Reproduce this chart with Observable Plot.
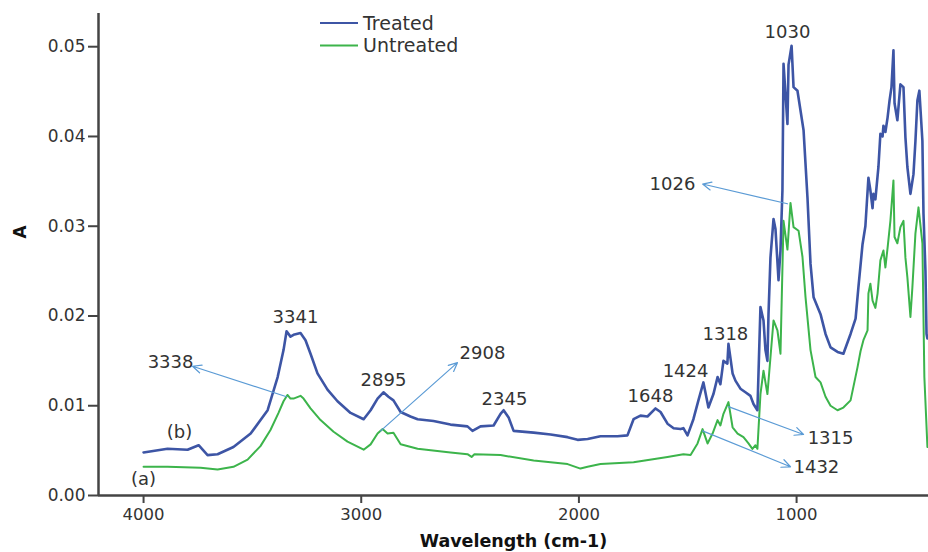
<!DOCTYPE html>
<html><head><meta charset="utf-8">
<script src="https://cdn.jsdelivr.net/npm/d3@7"></script>
<script src="https://cdn.jsdelivr.net/npm/@observablehq/plot@0.6"></script>
<style>
html,body{margin:0;padding:0;background:#fff;}
#chart{width:928px;height:552px;position:relative;}
</style></head><body><div id="chart"></div>
<script>
// ---- data ----
const treatedWn = [4000,3890,3798,3747,3706,3660,3587,3508,3430,3384,3357,3343,3325,3311,3279,3256,3233,3201,3155,3109,3049,2989,2957,2925,2898,2875,2852,2819,2774,2741,2668,2590,2512,2489,2452,2392,2360,2346,2323,2300,2208,2130,2052,2006,1960,1901,1823,1777,1749,1717,1685,1648,1625,1593,1565,1533,1520,1501,1474,1451,1428,1405,1382,1363,1350,1336,1318,1313,1294,1281,1258,1235,1212,1198,1180,1166,1152,1143,1134,1129,1120,1106,1097,1083,1074,1065,1060,1042,1037,1023,1014,996,982,968,950,936,922,890,867,844,812,785,752,729,716,697,684,670,661,651,647,638,624,615,605,601,592,582,573,564,555,550,537,523,509,500,491,477,463,454,445,436,422,417,408,403,399];
const treatedA = [0.0048,0.0052,0.0051,0.0056,0.0045,0.0046,0.0054,0.0069,0.0095,0.0132,0.0162,0.0183,0.0177,0.0179,0.0181,0.0173,0.0158,0.0136,0.0118,0.0105,0.0092,0.0085,0.0095,0.0108,0.0115,0.0110,0.0106,0.0093,0.0088,0.0085,0.0083,0.0079,0.0077,0.0072,0.0077,0.0078,0.0091,0.0095,0.0087,0.0072,0.0070,0.0068,0.0065,0.0062,0.0063,0.0066,0.0066,0.0067,0.0085,0.0089,0.0088,0.0097,0.0093,0.0080,0.0075,0.0074,0.0075,0.0067,0.0085,0.0106,0.0126,0.0098,0.0113,0.0132,0.0124,0.0150,0.0147,0.0169,0.0136,0.0128,0.0119,0.0115,0.0111,0.0102,0.0095,0.0210,0.0195,0.0162,0.0150,0.0202,0.0265,0.0308,0.0297,0.0240,0.0273,0.0340,0.0481,0.0414,0.0480,0.0501,0.0455,0.0451,0.0429,0.0407,0.0332,0.0258,0.0221,0.0202,0.0180,0.0165,0.0160,0.0158,0.0180,0.0197,0.0232,0.0280,0.0300,0.0354,0.0340,0.0320,0.0336,0.0330,0.0366,0.0403,0.0400,0.0412,0.0405,0.0421,0.0440,0.0455,0.0496,0.0437,0.0418,0.0458,0.0455,0.0399,0.0366,0.0336,0.0358,0.0395,0.0440,0.0451,0.0395,0.0314,0.0250,0.0180,0.0175];
const untreatedWn = [4000,3890,3738,3660,3587,3522,3463,3417,3380,3357,3339,3325,3311,3279,3265,3233,3187,3127,3063,2989,2957,2925,2902,2879,2852,2819,2741,2590,2512,2493,2480,2360,2208,2130,2052,1993,1960,1901,1749,1593,1520,1487,1455,1432,1409,1386,1363,1350,1336,1313,1294,1271,1244,1221,1203,1189,1180,1166,1152,1134,1120,1106,1088,1074,1060,1042,1028,1014,991,973,959,936,913,890,867,844,812,785,752,739,720,706,693,674,670,661,651,638,628,615,601,592,582,569,555,550,537,523,509,500,491,477,468,454,440,422,413,399];
const untreatedA = [0.0032,0.0032,0.0031,0.0029,0.0032,0.0040,0.0055,0.0073,0.0092,0.0105,0.0112,0.0108,0.0108,0.0111,0.0108,0.0097,0.0084,0.0071,0.0060,0.0051,0.0057,0.0069,0.0074,0.0069,0.0070,0.0057,0.0052,0.0048,0.0046,0.0043,0.0046,0.0045,0.0039,0.0037,0.0035,0.0030,0.0032,0.0035,0.0037,0.0043,0.0046,0.0045,0.0058,0.0074,0.0058,0.0069,0.0084,0.0078,0.0091,0.0104,0.0076,0.0069,0.0065,0.0058,0.0052,0.0056,0.0052,0.0113,0.0139,0.0113,0.0154,0.0195,0.0184,0.0158,0.0306,0.0274,0.0326,0.0299,0.0295,0.0266,0.0221,0.0162,0.0132,0.0126,0.0110,0.0100,0.0095,0.0098,0.0106,0.0121,0.0143,0.0161,0.0173,0.0184,0.0225,0.0236,0.0217,0.0209,0.0225,0.0262,0.0273,0.0254,0.0276,0.0306,0.0351,0.0288,0.0281,0.0299,0.0306,0.0265,0.0243,0.0199,0.0232,0.0292,0.0321,0.0281,0.0132,0.0054];

const seriesNames = ["Treated", "Untreated"];
const seriesColors = ["#3D55A5", "#3CB44B"];
const xTicks = [4000, 3000, 2000, 1000];
const yTicks = [0, 0.01, 0.02, 0.03, 0.04, 0.05];
const xDomain = [4207, 394];
const yDomain = [0, 0.0537];
const xLabel = "Wavelength (cm-1)";
const yLabel = "A";

// peak labels
const labelText = ["3341","3338","2895","2908","2345","1648","1424","1318","1315","1432","1030","1026","(b)","(a)"];
const labelWn   = [3302, 3876, 2898, 2443, 2342, 1671, 1510, 1327, 844, 909, 1042, 1570, 3835, 4000];
const labelA    = [0.0199,0.0149,0.0128,0.0159,0.0107,0.0111,0.0138,0.0180,0.0064,0.0031,0.0516,0.0347,0.0070,0.0018];

// arrows (from curve toward label)
const arrowFromWn = [3343, 2911, 1313, 1432, 1042];
const arrowFromA  = [0.0110, 0.0072, 0.0099, 0.0072, 0.0325];
const arrowToWn   = [3775, 2558, 968, 1028, 1432];
const arrowToA    = [0.0144, 0.0148, 0.0068, 0.0032, 0.0347];

// ---- tables ----
const treated = treatedWn.map((w, i) => ({wn: w, a: treatedA[i]}));
const untreated = untreatedWn.map((w, i) => ({wn: w, a: untreatedA[i]}));
const labels = labelText.map((t, i) => ({t, wn: labelWn[i], a: labelA[i]}));
const arrows = arrowFromWn.map((w, i) => ({x1: w, y1: arrowFromA[i], x2: arrowToWn[i], y2: arrowToA[i]}));

const axisColor = "#444";
const plot = Plot.plot({
  width: 928,
  height: 552,
  marginLeft: 98,
  marginRight: 0,
  marginTop: 13,
  marginBottom: 57,
  style: {fontFamily: "DejaVu Sans, sans-serif", fontSize: "16px", color: "#333", background: "#fff"},
  x: {domain: xDomain, label: null},
  y: {domain: yDomain, label: null},
  marks: [
    Plot.ruleX([xDomain[0]], {stroke: axisColor, strokeWidth: 2.5}),
    Plot.ruleY([0], {stroke: axisColor, strokeWidth: 2.5}),
    Plot.axisX({ticks: xTicks, tickSize: 8, tickPadding: 5, tickFormat: d => String(d), stroke: axisColor, strokeWidth: 2, fontSize: 16.5, fill: "#333"}),
    Plot.axisY({ticks: yTicks, tickSize: 10, tickPadding: 3, tickFormat: d3.format(".2f"), stroke: axisColor, strokeWidth: 2, fontSize: 17, fill: "#333"}),
    Plot.line(untreated, {x: "wn", y: "a", stroke: seriesColors[1], strokeWidth: 2}),
    Plot.line(treated, {x: "wn", y: "a", stroke: seriesColors[0], strokeWidth: 2.6}),
    Plot.arrow(arrows, {x1: "x1", y1: "y1", x2: "x2", y2: "y2", stroke: "#5B9BD5", strokeWidth: 1.2, headLength: 12, headAngle: 50}),
    Plot.text(labels, {x: "wn", y: "a", text: "t", fontSize: 18, fill: "#333"}),
    Plot.text([xLabel], {frameAnchor: "bottom", dy: 51, fontWeight: "bold", fontSize: 17.5, fill: "#111"}),
    Plot.text([yLabel], {frameAnchor: "left", dx: -78, dy: -16, rotate: -90, fontWeight: "bold", fontSize: 17, fill: "#111"})
  ]
});
document.getElementById("chart").appendChild(plot);

// legend inside the plot area
const svg = d3.select(plot);
const lg = svg.append("g").attr("font-family", "DejaVu Sans, sans-serif").attr("font-size", 19)
  .attr("fill", "#333").attr("text-anchor", "start");
seriesNames.forEach((name, i) => {
  const y = 23 + i * 22.5;
  lg.append("line").attr("x1", 320).attr("x2", 358).attr("y1", y).attr("y2", y)
    .attr("stroke", seriesColors[i]).attr("stroke-width", 2);
  lg.append("text").attr("x", 363).attr("y", y).attr("dy", "0.35em").attr("text-anchor", "start").text(name);
});
</script></body></html>
